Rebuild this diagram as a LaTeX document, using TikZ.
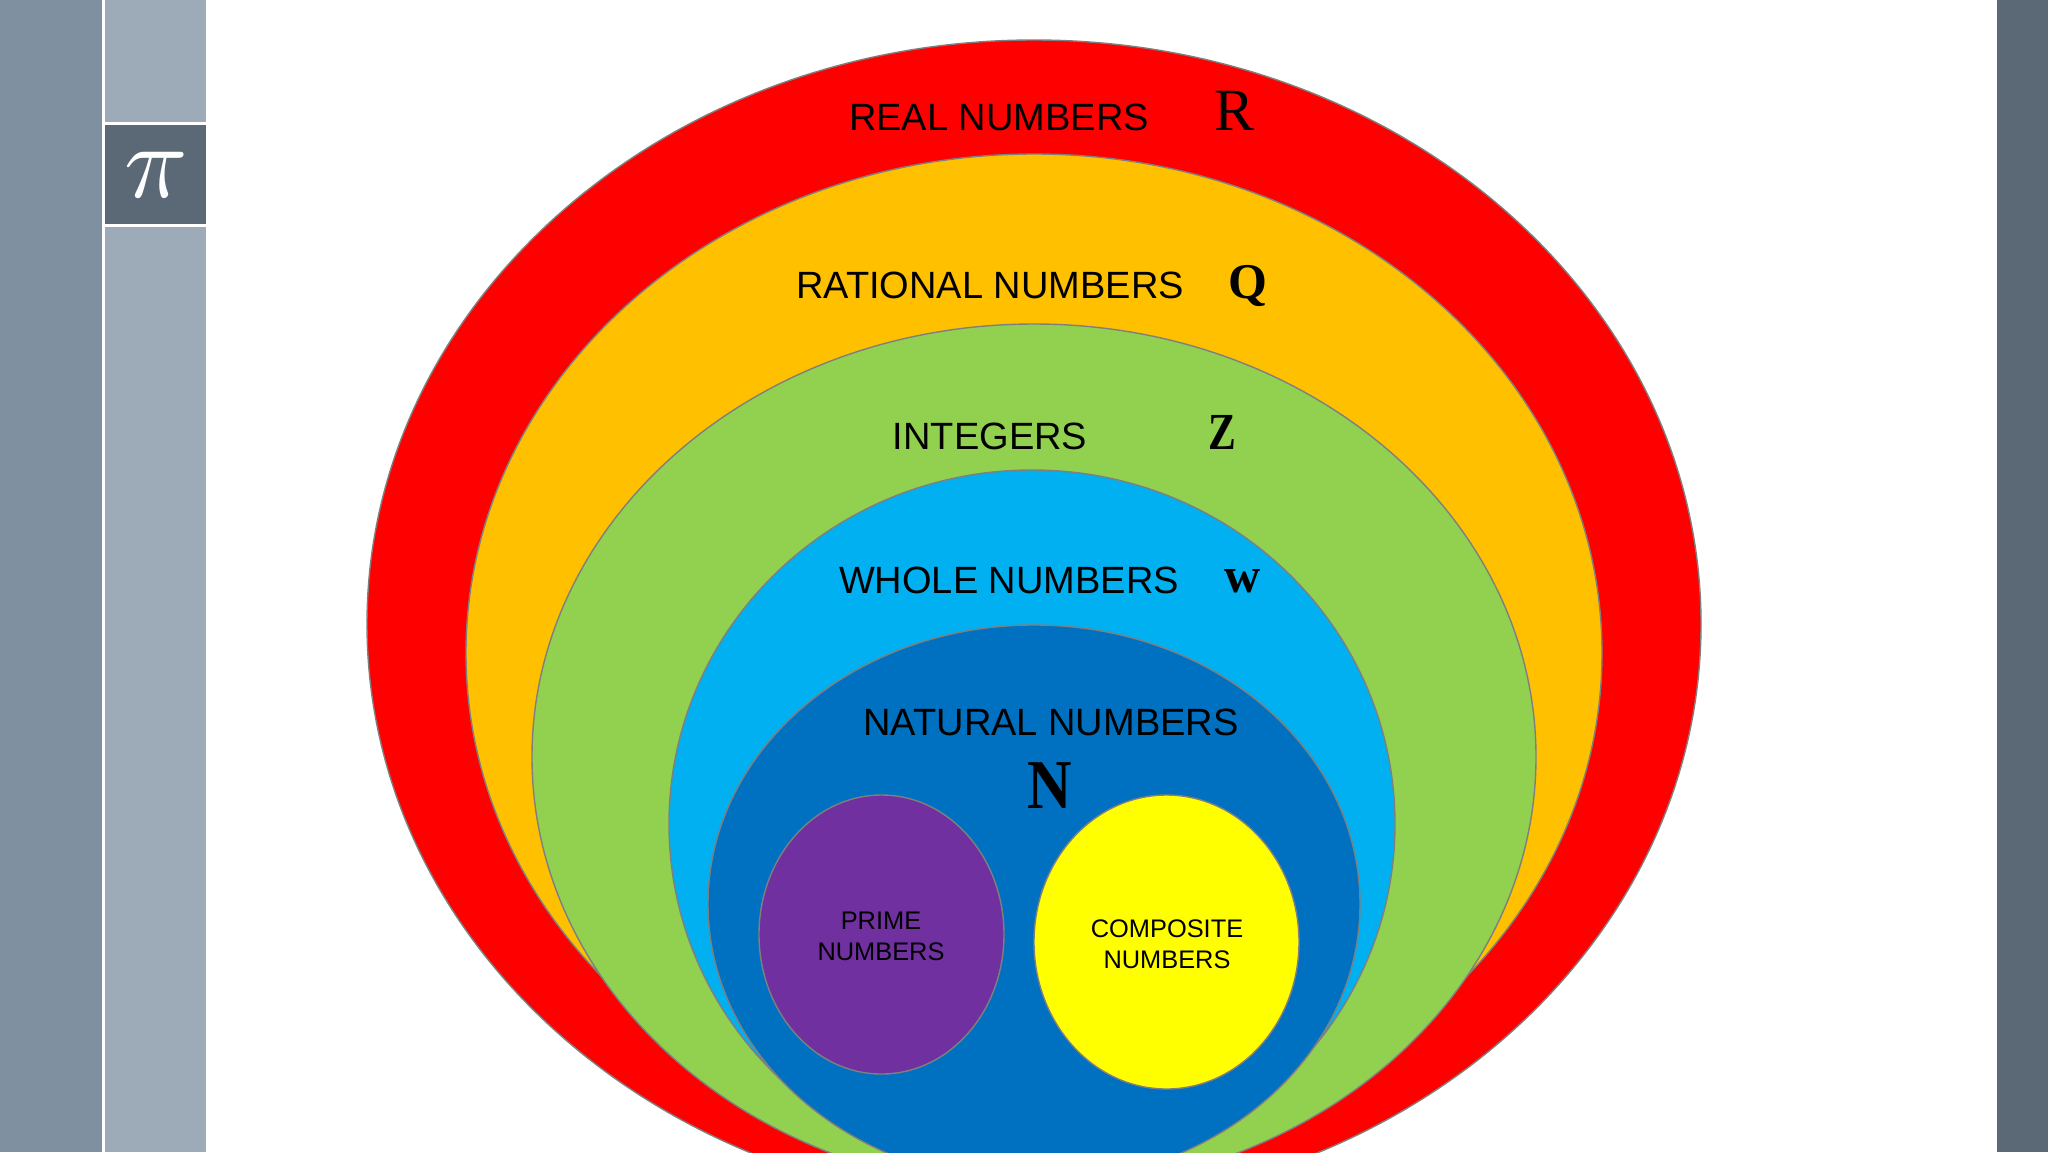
\documentclass[tikz,border=0pt]{standalone}
\usepackage{fontspec}
\setmainfont{Liberation Sans}
\newfontfamily\tms{Liberation Serif}
\definecolor{barA}{HTML}{7F90A1}
\definecolor{barB}{HTML}{9DAAB7}
\definecolor{barC}{HTML}{5B6876}
\definecolor{edgegrey}{HTML}{7F7F7F}
\definecolor{oran}{HTML}{FFC000}
\definecolor{gren}{HTML}{92D050}
\definecolor{lblue}{HTML}{00B0F0}
\definecolor{dblue}{HTML}{0070C0}
\definecolor{purp}{HTML}{7030A0}
\definecolor{pureyellow}{HTML}{FFFF00}
\definecolor{purered}{HTML}{FF0000}
\tikzset{
 set/.style={draw=edgegrey,line width=1.4pt},
 lab/.style={inner sep=0pt,text=black,font=\fontsize{38}{38}\selectfont},
 small/.style={inner sep=0pt,text=black,align=center,font=\fontsize{25.4}{31}\selectfont},
 sym/.style={inner sep=0pt,text=black},
}
\begin{document}
\begin{tikzpicture}[x=1pt,y=-1pt]
\useasboundingbox (0,0) rectangle (2048,1152);
\clip (0,0) rectangle (2048,1152);
\fill[white] (0,0) rectangle (2048,1152);
\fill[barA] (0,0) rectangle (102,1152);
\fill[barB] (105,0) rectangle (206,122);
\fill[barB] (105,227) rectangle (206,1152);
\fill[barC] (105,125) rectangle (206,224);
\fill[barC] (1997,0) rectangle (2048,1152);
\node[inner sep=0pt,text=white,scale=10.5] (pi) at (156,175) {$\pi$};
\fill[set,fill=purered] (1034,624) ellipse [x radius=667,y radius=584];
\fill[set,fill=oran] (1034,653) ellipse [x radius=568,y radius=499];
\fill[set,fill=gren] (1034,757) ellipse [x radius=502,y radius=433];
\fill[set,fill=lblue] (1032,824) ellipse [x radius=363,y radius=354];
\fill[set,fill=dblue] (1034,904) ellipse [x radius=326,y radius=279];
\fill[set,fill=purp] (881.5,934.5) ellipse [x radius=122.5,y radius=139.5];
\fill[set,fill=pureyellow] (1166.5,942) ellipse [x radius=132.5,y radius=147];
\node[lab] (real) at (999,117) {REAL NUMBERS};
\node[lab] (rat) at (990,285) {RATIONAL NUMBERS};
\node[lab] (int) at (990,436) {INTEGERS};
\node[lab] (whole) at (1009,580) {WHOLE NUMBERS};
\node[lab] (nat) at (1051,722) {NATURAL NUMBERS};
\node[sym,font=\tms\fontsize{60}{60}\selectfont] (R) at (1234,111) {R};
\node[sym,font=\tms\bfseries\fontsize{50}{50}\selectfont] (Q) at (1248,286) {Q};
\node[sym,font=\tms\bfseries\fontsize{52}{52}\selectfont,xscale=.8] (Z) at (1222,432) {Z};
\node[sym,font=\tms\bfseries\fontsize{50}{50}\selectfont] (W) at (1243,581) {w};
\node[sym,font=\tms\bfseries\fontsize{70}{70}\selectfont,xscale=.88] (N) at (1050,786) {N};
\node[small] (prime) at (881,936) {PRIME\\NUMBERS};
\node[small] (comp) at (1167,944) {COMPOSITE\\NUMBERS};
\end{tikzpicture}
\end{document}
